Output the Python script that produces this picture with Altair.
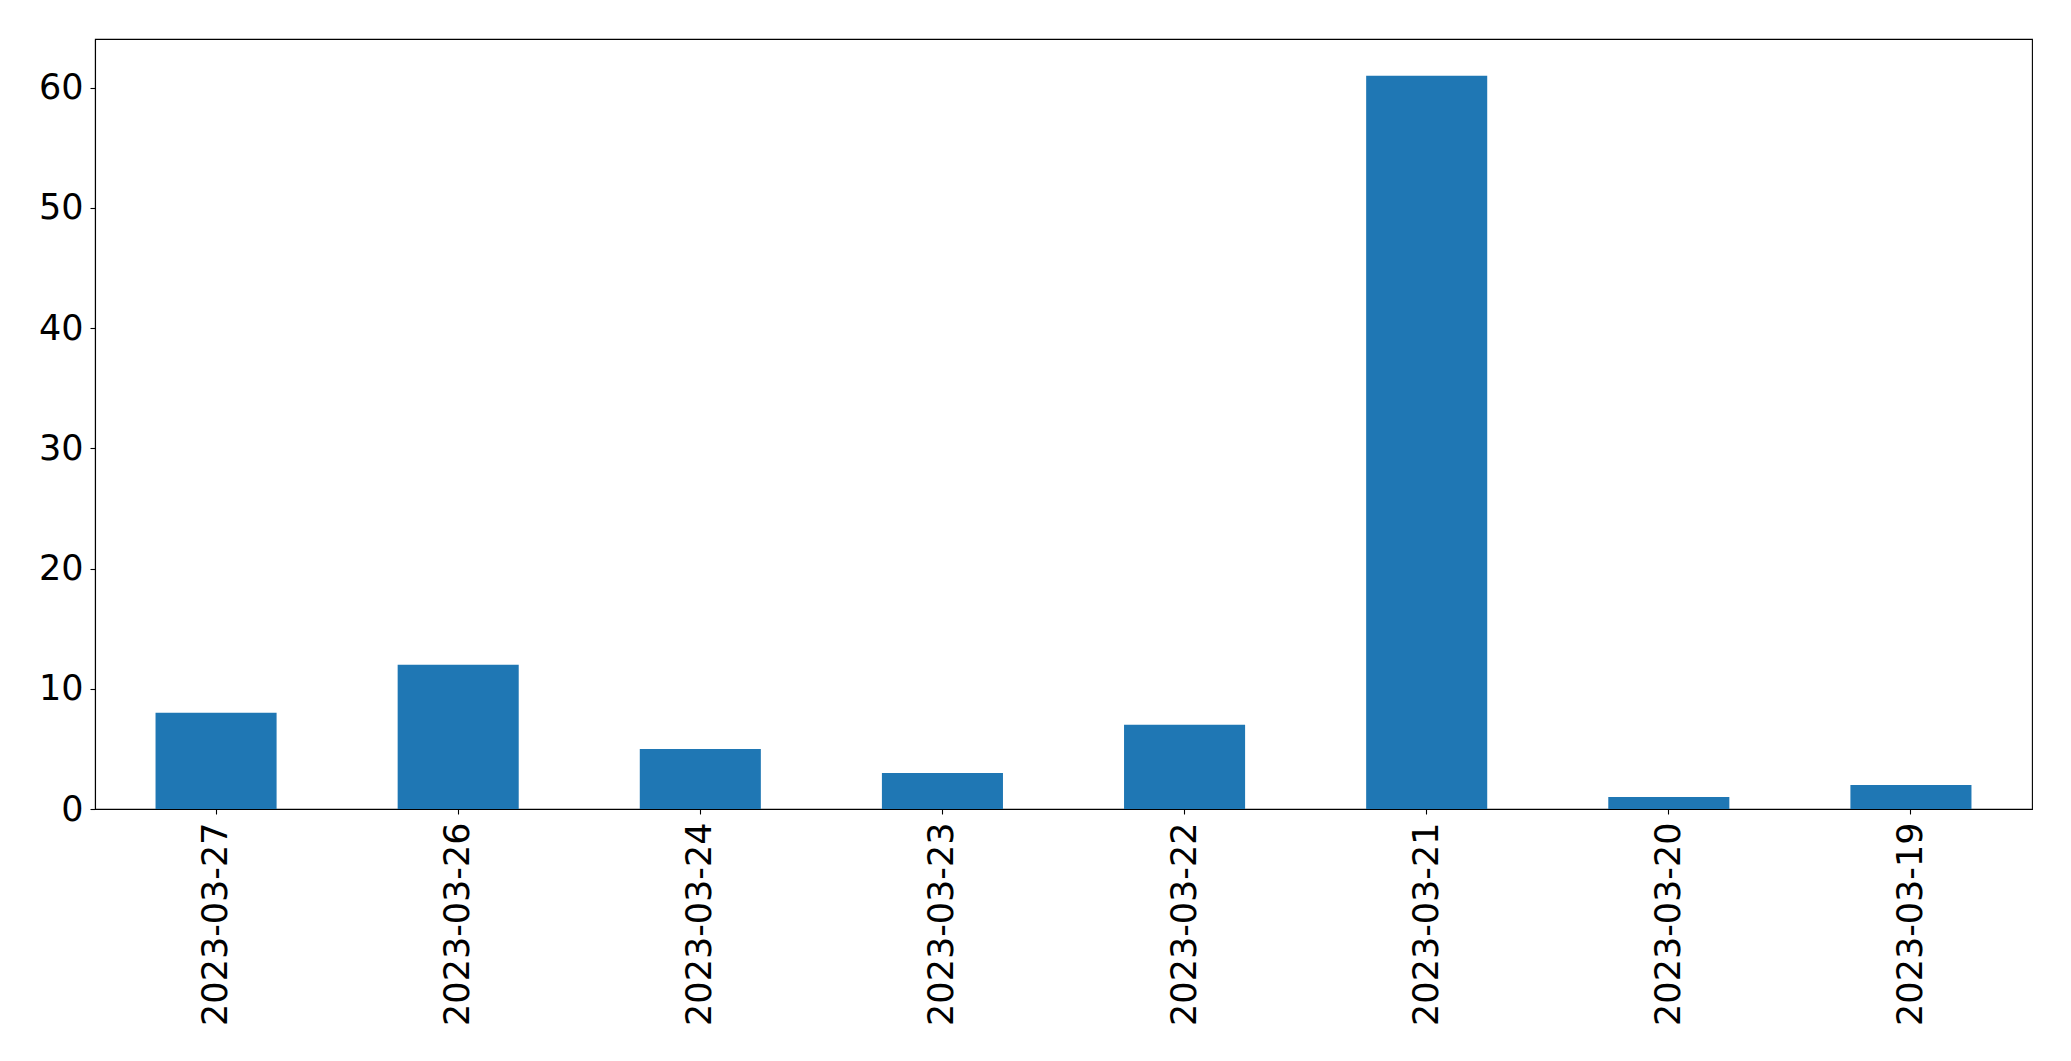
import altair as alt
import pandas as pd

dates = ["2023-03-27", "2023-03-26", "2023-03-24", "2023-03-23",
         "2023-03-22", "2023-03-21", "2023-03-20", "2023-03-19"]
counts = [8, 12, 5, 3, 7, 61, 1, 2]
y_ticks = [0, 10, 20, 30, 40, 50, 60]

df = pd.DataFrame({"date": dates, "count": counts})

FONT = "DejaVu Sans"

chart = alt.Chart(df).mark_bar(color="#1f77b4").encode(
    x=alt.X("date:N", sort=dates, title=None,
            scale=alt.Scale(paddingInner=0.5, paddingOuter=0.25),
            axis=alt.Axis(labelAngle=270, labelFontSize=35, labelFont=FONT,
                          labelColor="black", tickColor="black", domainColor="black",
                          tickSize=5, tickWidth=1.1, domainWidth=1.1, labelPadding=8,
                          labelAlign="right", labelBaseline="middle", labelLimit=500)),
    y=alt.Y("count:Q", title=None,
            scale=alt.Scale(domain=[0, 64.05], nice=False, zero=True),
            axis=alt.Axis(values=y_ticks, labelFontSize=35, labelFont=FONT,
                          labelColor="black", tickColor="black", domainColor="black",
                          tickSize=5, tickWidth=1.1, domainWidth=1.1, labelPadding=7,
                          grid=False)),
).properties(
    width=1937, height=770,
    autosize=alt.AutoSizeParams(type="none"),
    padding={"left": 87, "top": 31, "right": 30, "bottom": 240},
).configure_view(
    stroke="black", strokeWidth=1.1
)

chart.save("out.html", embed_options={"renderer": "svg", "actions": False})
